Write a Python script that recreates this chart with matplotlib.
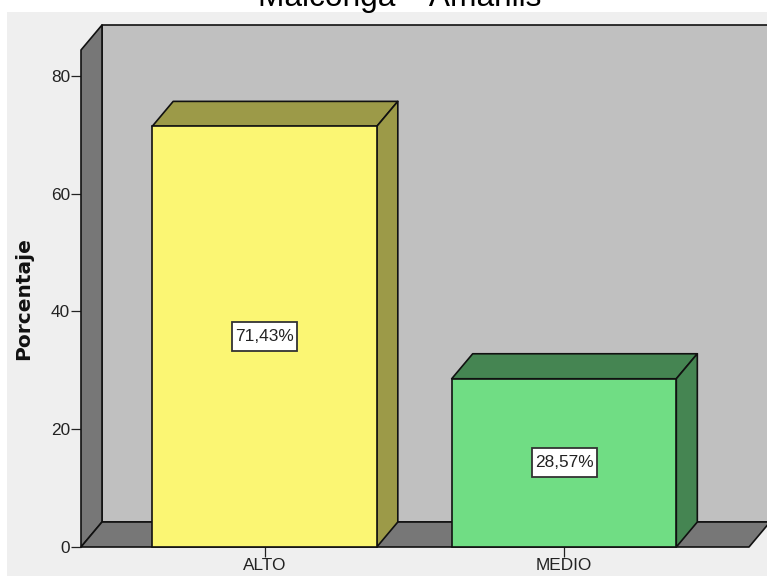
"""
  Porcentaje por nivel, barras con efecto 3D.
"""

from matplotlib import pyplot as plt
from matplotlib.patches import Polygon, Rectangle

CATEGORIES = ['ALTO', 'MEDIO']
VALUES = [71.43, 28.57]
LABELS = ['71,43%', '28,57%']
FRONT_COLORS = ['#fbf673', '#70dd84']
SIDE_COLORS = ['#9c9a48', '#458552']
Y_TICKS = [0, 20, 40, 60, 80]
Y_MAX = 84.4
TITLE = 'Malconga – Amarilis'

W, H = 767, 576
# pixels of the plot frame in the figure
LEFT, RIGHT, BOTTOM, TOP = 81, 749, 547, 50
X_STEP = 299.5
X_ZERO = 264.5
DEPTH_X = 21 / X_STEP
DEPTH_Y = 25 * Y_MAX / (BOTTOM - TOP)
BAR_W = 0.75
# value label box, 65x29 pixels
BOX_W = 65 / X_STEP
BOX_H = 29 * Y_MAX / (BOTTOM - TOP)
EDGE = '#111111'


def poly(axis, pts, color, order):
    axis.add_patch(Polygon(pts, closed=True, fc=color, ec=EDGE, lw=1.2,
                           zorder=order, clip_on=False, joinstyle='round'))


def draw_bar(axis, pos, value, front, side, order):
    x0 = pos - BAR_W / 2
    x1 = pos + BAR_W / 2
    poly(axis, [(x0, value), (x1, value), (x1 + DEPTH_X, value + DEPTH_Y),
                (x0 + DEPTH_X, value + DEPTH_Y)], side, order)
    poly(axis, [(x1, 0), (x1 + DEPTH_X, DEPTH_Y),
                (x1 + DEPTH_X, value + DEPTH_Y), (x1, value)], side, order)
    axis.add_patch(Rectangle((x0, 0), BAR_W, value, fc=front, ec=EDGE, lw=1.2,
                             zorder=order + 1, clip_on=False))


def main():
    plt.rcParams['font.family'] = ['Liberation Sans']
    fig = plt.figure(figsize=(W / 100, H / 100), dpi=100, facecolor='white')

    # light panel behind the chart
    fig.patches.append(Rectangle((7 / W, 0), (W - 7) / W, (H - 12) / H,
                                 transform=fig.transFigure, fc='#efefef',
                                 ec='none', zorder=-5))

    axis = fig.add_axes([LEFT / W, (H - BOTTOM) / H, (RIGHT - LEFT) / W,
                         (BOTTOM - TOP) / H])
    axis.patch.set_alpha(0)
    axis.set_xlim((LEFT - X_ZERO) / X_STEP, (RIGHT - X_ZERO) / X_STEP)
    axis.set_ylim(0, Y_MAX)
    for spine in axis.spines.values():
        spine.set_visible(False)

    x_left, x_right = axis.get_xlim()
    # back wall, side wall and floor
    poly(axis, [(x_left + DEPTH_X, DEPTH_Y), (x_right + 2 * DEPTH_X, DEPTH_Y),
                (x_right + 2 * DEPTH_X, Y_MAX + DEPTH_Y),
                (x_left + DEPTH_X, Y_MAX + DEPTH_Y)], '#c0c0c0', 1)
    poly(axis, [(x_left, 0), (x_left + DEPTH_X, DEPTH_Y),
                (x_left + DEPTH_X, Y_MAX + DEPTH_Y), (x_left, Y_MAX)],
         '#777777', 2)
    poly(axis, [(x_left, 0), (x_right, 0), (x_right + DEPTH_X, DEPTH_Y),
                (x_left + DEPTH_X, DEPTH_Y)], '#777777', 2)

    positions = list(range(len(CATEGORIES)))
    for i, pos in enumerate(positions):
        draw_bar(axis, pos, VALUES[i], FRONT_COLORS[i], SIDE_COLORS[i], 3)
        axis.add_patch(Rectangle((pos - BOX_W / 2, VALUES[i] / 2 - BOX_H / 2),
                                 BOX_W, BOX_H, fc='white', ec='#333333',
                                 lw=1.3, zorder=5))
        axis.text(pos, VALUES[i] / 2, LABELS[i], ha='center', va='center',
                  fontsize=12.4, color='#222222', zorder=6)

    axis.set_xticks(positions, CATEGORIES)
    axis.set_yticks(Y_TICKS)
    axis.tick_params(axis='both', length=7, width=0.9, pad=1,
                     labelsize=12.4, color='#222222', labelcolor='#222222')
    axis.set_ylabel('Porcentaje', fontsize=14.5, fontweight='bold',
                    family='DejaVu Sans', color='#111111')
    axis.yaxis.set_label_coords((33 - LEFT) / (RIGHT - LEFT), 0.5)

    fig.text(400 / W, 1 - 6 / H, TITLE, ha='center', va='baseline',
             fontsize=22.8, color='black')
    fig.savefig('out.png', dpi=100)


main()
